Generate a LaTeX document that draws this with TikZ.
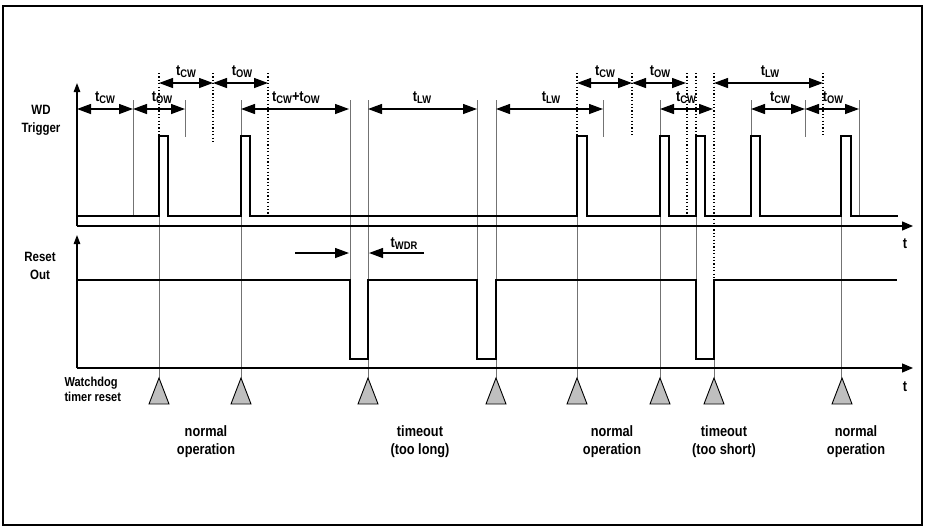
\documentclass[tikz,border=0pt]{standalone}
\usepackage{fontspec}
\setmainfont{Liberation Sans}
\newfontfamily\narrowsans[FakeStretch=0.85]{Liberation Sans}
\usetikzlibrary{arrows.meta,positioning}

% time label with subscript
\newcommand{\tw}[1]{t\raisebox{-0.35ex}{\fontsize{11}{11}\selectfont #1}}

\begin{document}
\begin{tikzpicture}[
  x=1pt, y=-1pt,
  signal/.style={line width=2.6pt, line join=miter},
  taxis/.style={line width=1.3pt, -{Triangle[length=11pt, width=9pt]}},
  vaxis/.style={line width=1.3pt, -{Triangle[length=9pt, width=6.5pt]}},
  span/.style={line width=1.3pt,
               {Triangle[length=14pt, width=10pt]}-{Triangle[length=14pt, width=10pt]}},
  onearrow/.style={line width=1.3pt, -{Triangle[length=14pt, width=10pt]}},
  guide/.style={draw=black!55, line width=0.9pt},
  dots/.style={line width=1.2pt, dash pattern=on 1.2pt off 2.2pt},
  lbl/.style={font=\narrowsans\bfseries\fontsize{15}{15}\selectfont, inner sep=0pt, anchor=base},
  signame/.style={font=\narrowsans\bfseries\fontsize{13.5}{18}\selectfont, align=center},
  opnote/.style={font=\narrowsans\bfseries\fontsize{15}{18}\selectfont, align=center},
  trig/.style={draw, fill=black!25, line width=0.9pt}
]
  \useasboundingbox (0,0) rectangle (925,531);
  \draw[line width=1.2pt] (3,6) rectangle (922,525);

  % guide lines
  \foreach \x/\ya/\yb in {133/100/216, 159/216/378, 241/100/378, 350/100/359,
                          368/100/378, 477/100/359, 496/100/378, 577/216/378,
                          660/100/378, 696/136/359, 714/280/378, 751/100/136,
                          841/216/378, 859/100/216, 185/100/137, 603/100/137,
                          805/100/137}
    \draw[guide] (\x,\ya) -- (\x,\yb);
  \foreach \x/\yb in {159/136, 213/143, 268/215, 577/136, 632/135, 696/136,
                      714/280, 823/135}
    \draw[dots] (\x,73) -- (\x,\yb);
  \draw[dots, line width=1.8pt] (687,73) -- (687,216);

  % axes
  \draw[vaxis] (77,226) -- (77,83);
  \draw[taxis] (77,226) -- (913,226);
  \draw[vaxis] (77,368) -- (77,235);
  \draw[taxis] (77,368) -- (913,368);
  \node[lbl] (tup) at (905,248) {t};
  \node[lbl] (tdown) at (905,391) {t};

  % signals
  \draw[signal] (77,216)
    -- (159,216) -- (159,136) -- (168,136) -- (168,216)
    -- (241,216) -- (241,136) -- (250,136) -- (250,216)
    -- (577,216) -- (577,136) -- (587,136) -- (587,216)
    -- (660,216) -- (660,136) -- (669,136) -- (669,216)
    -- (696,216) -- (696,136) -- (705,136) -- (705,216)
    -- (751,216) -- (751,136) -- (760,136) -- (760,216)
    -- (841,216) -- (841,136) -- (851,136) -- (851,216)
    -- (898,216);
  \draw[signal] (77,280)
    -- (350,280) -- (350,359) -- (368,359) -- (368,280)
    -- (477,280) -- (477,359) -- (496,359) -- (496,280)
    -- (696,280) -- (696,359) -- (714,359) -- (714,280)
    -- (897,280);

  % upper row of time spans
  \draw[span] (159,83) -- (213,83);
  \draw[span] (213,83) -- (268,83);
  \draw[span] (577,83) -- (632,83);
  \draw[span] (632,83) -- (686,83);
  \draw[span] (714,83) -- (823,83);
  \node[lbl] (cwa) at (186,75) {\tw{CW}};
  \node[lbl] (owa) at (242,75) {\tw{OW}};
  \node[lbl] (cwb) at (605,75) {\tw{CW}};
  \node[lbl] (owb) at (660,75) {\tw{OW}};
  \node[lbl] (lwa) at (770,75) {\tw{LW}};

  % lower row of time spans
  \draw[span] (77,109) -- (133,109);
  \draw[span] (133,109) -- (185,109);
  \draw[span] (241,109) -- (349,109);
  \draw[span] (368,109) -- (477,109);
  \draw[span] (496,109) -- (603,109);
  \draw[span] (660,109) -- (713,109);
  \draw[span] (751,109) -- (805,109);
  \draw[span] (805,109) -- (859,109);
  \node[lbl] (cwc) at (105,101) {\tw{CW}};
  \node[lbl] (owc) at (162,101) {\tw{OW}};
  \node[lbl] (cwow) at (296,101) {\tw{CW}+\tw{OW}};
  \node[lbl] (lwb) at (422,101) {\tw{LW}};
  \node[lbl] (lwc) at (551,101) {\tw{LW}};
  \node[lbl] (cwd) at (686,101) {\tw{CW}};
  \node[lbl] (cwe) at (780,101) {\tw{CW}};
  \node[lbl] (owd) at (833,101) {\tw{OW}};

  % reset pulse width
  \draw[onearrow] (295,253) -- (349,253);
  \draw[onearrow] (424,253) -- (369,253);
  \node[lbl] (wdr) at (404,247) {\tw{WDR}};

  % signal names
  \node[signame] (wdtrig) at (41,120) {WD\\Trigger};
  \node[signame] (rstout) at (40,266) {Reset\\Out};
  \node[signame, font=\narrowsans\bfseries\fontsize{13}{15}\selectfont, align=left, anchor=west]
    (wdreset) at (61,389) {Watchdog\\timer reset};

  % watchdog timer resets
  \foreach \x in {159,241,368,496,577,660,714,842}
    \draw[trig] (\x,378) -- (\x+10,404) -- (\x-10,404) -- cycle;

  % notes
  \node[opnote] (norma) at (206,442) {normal\\operation};
  \node[opnote] (tlong) at (420,442) {timeout\\(too long)};
  \node[opnote] (normb) at (612,442) {normal\\operation};
  \node[opnote] (tshort) at (724,442) {timeout\\(too short)};
  \node[opnote] (normc) at (856,442) {normal\\operation};
\end{tikzpicture}
\end{document}
